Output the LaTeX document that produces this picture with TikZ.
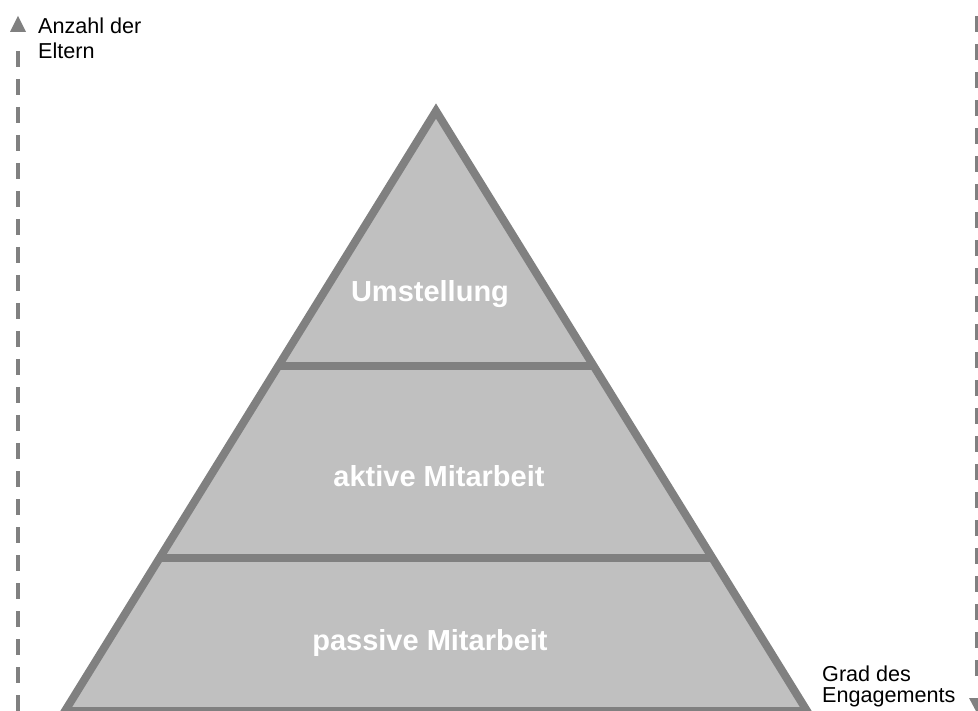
\documentclass[tikz,border=0pt]{standalone}
\usepackage{fontspec}
\setmainfont{Liberation Sans}
\usetikzlibrary{calc}
\definecolor{edgegray}{HTML}{808080}
\definecolor{fillgray}{HTML}{C0C0C0}
\begin{document}
\begin{tikzpicture}[x=1pt,y=-1pt,
  sidelabel/.style={anchor=base west,inner sep=0pt,font=\fontsize{21.6}{25}\selectfont,text=black},
  layerlabel/.style={anchor=base,inner sep=0pt,font=\fontsize{29}{34}\selectfont\bfseries,text=white},
  pyredge/.style={draw=edgegray,line width=8pt,line join=miter},
  axisdash/.style={draw=edgegray,line width=4.5pt,dash pattern=on 16pt off 12pt},
  axishead/.style={fill=edgegray,draw=none}]
\useasboundingbox (0,0) rectangle (978,711);
\clip (0,0) rectangle (978,711);
% pyramid
\coordinate (apex) at (436,111);
\coordinate (bl) at (65,711);
\coordinate (br) at (807,711);
\fill[fillgray] (apex) -- (bl) -- (br) -- cycle;
\path[pyredge] (apex) -- (bl) -- (br) -- cycle;
\coordinate (l1a) at ($(apex)!0.425!(bl)$);
\coordinate (l1b) at ($(apex)!0.425!(br)$);
\coordinate (l2a) at ($(apex)!0.745!(bl)$);
\coordinate (l2b) at ($(apex)!0.745!(br)$);
\path[pyredge,line width=7.5pt] (l1a) -- (l1b);
\path[pyredge,line width=7.5pt] (l2a) -- (l2b);
\node[layerlabel] (t1) at (430,302) {Umstellung};
\node[layerlabel] (t2) at (439,486) {aktive Mitarbeit};
\node[layerlabel] (t3) at (430,650) {passive Mitarbeit};
% left axis
\coordinate (lt) at (18,16);
\coordinate (ls) at (18,51);
\coordinate (lb) at (18,720);
\path[axisdash] (ls) -- (lb);
\path[axishead] (lt) -- (10,32) -- (26,32) -- cycle;
% right axis
\coordinate (rs) at (977,16);
\coordinate (re) at (977,678);
\coordinate (rt) at (977,713);
\path[axisdash] (rs) -- (re);
\path[axishead] (rt) -- (969,698) -- (985,698) -- cycle;
% labels
\node[sidelabel] (a1) at (38,34) {Anzahl der};
\node[sidelabel] (a2) at (38,59) {Eltern};
\node[sidelabel] (g1) at (822,681) {Grad des};
\node[sidelabel] (g2) at (822,702) {Engagements};
\end{tikzpicture}
\end{document}
